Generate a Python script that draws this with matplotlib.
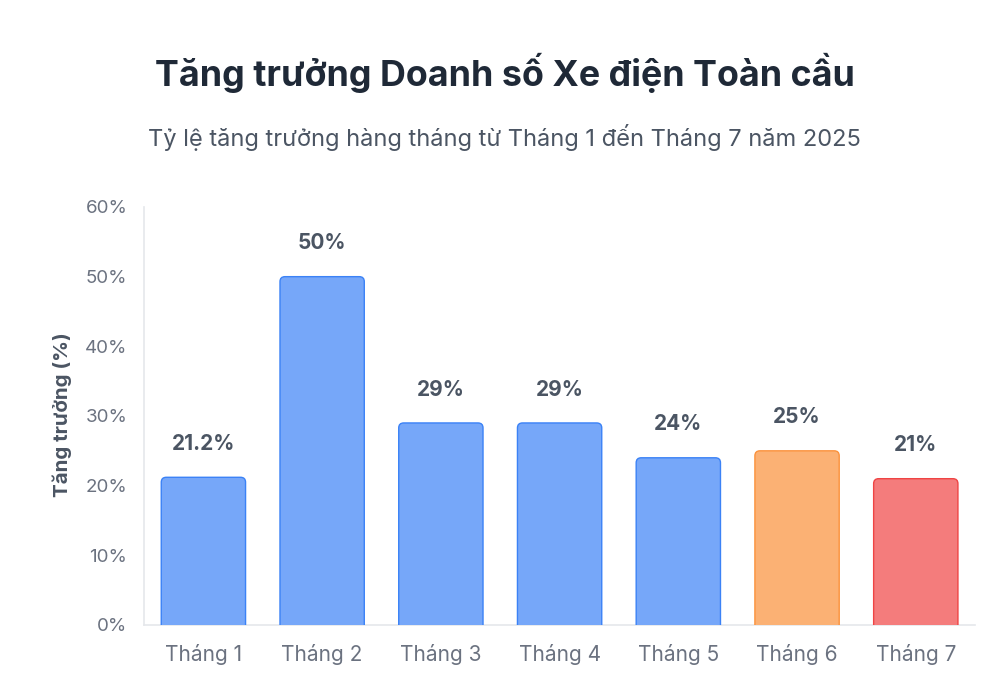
import matplotlib.pyplot as plt
import numpy as np
from matplotlib.patches import FancyBboxPatch

months = ["Tháng 1", "Tháng 2", "Tháng 3", "Tháng 4", "Tháng 5", "Tháng 6", "Tháng 7"]
growth = [21.2, 50, 29, 29, 24, 25, 21]
value_labels = ["21.2%", "50%", "29%", "29%", "24%", "25%", "21%"]
y_ticks = [0, 10, 20, 30, 40, 50, 60]

BLUE_FILL, BLUE_EDGE = "#76A7F9", "#3B82F6"
ORANGE_FILL, ORANGE_EDGE = "#FBB174", "#FB923C"
RED_FILL, RED_EDGE = "#F47C7C", "#EF4444"
fills = [BLUE_FILL] * 5 + [ORANGE_FILL, RED_FILL]
edges = [BLUE_EDGE] * 5 + [ORANGE_EDGE, RED_EDGE]

plt.rcParams["font.family"] = ["Inter", "DejaVu Sans"]

fig = plt.figure(figsize=(9.9, 6.78), dpi=100)
fig.patch.set_facecolor("white")
ax = fig.add_axes([0.1455, 0.0782, 0.8395, 0.6165])

x = np.arange(len(months))
bars = ax.bar(x, growth, width=0.71, color="none", edgecolor="none")

# px per data unit, used to keep the corner radius round
px_x = 0.8395 * 990 / 7.0
px_y = 0.6165 * 678 / 60.0
aspect = px_x / px_y
r = 5.0 / px_x

for b, fc, ec, v, lab in zip(bars, fills, edges, growth, value_labels):
    bx, bw, bh = b.get_x(), b.get_width(), b.get_height()
    patch = FancyBboxPatch(
        (bx + r, -3 + r * aspect),
        bw - 2 * r,
        bh + 3 - 2 * r * aspect,
        boxstyle=f"round,pad={r},rounding_size={r}",
        mutation_aspect=aspect,
        facecolor=fc,
        edgecolor=ec,
        linewidth=1.0,
        zorder=3,
    )
    ax.add_patch(patch)
    ax.text(bx + bw / 2, v + 4.8, lab, ha="center", va="center",
            fontsize=15, fontweight="bold", color="#4B5563")

ax.set_xlim(-0.5, len(months) - 0.5)
ax.set_ylim(0, 60)
ax.set_xticks(x)
ax.set_xticklabels(months, fontsize=15, color="#6B7280")
ax.set_yticks(y_ticks)
ax.set_yticklabels([f"{t}%" for t in y_ticks], fontsize=13.5, color="#6B7280")
ax.tick_params(axis="both", length=0)
ax.tick_params(axis="y", pad=12)
ax.tick_params(axis="x", pad=14)

for s in ["top", "right"]:
    ax.spines[s].set_visible(False)
for s in ["left", "bottom"]:
    ax.spines[s].set_color("#E5E7EB")
    ax.spines[s].set_linewidth(1.2)

fig.text(62 / 990, 1 - 415 / 678, "Tăng trưởng (%)", rotation=90, ha="center", va="center",
         fontsize=14.8, fontweight="bold", color="#4B5563")

fig.text(0.51, 0.893, "Tăng trưởng Doanh số Xe điện Toàn cầu", ha="center", va="center",
         fontsize=25.8, fontweight="bold", color="#1F2937")
fig.text(0.51, 0.797, "Tỷ lệ tăng trưởng hàng tháng từ Tháng 1 đến Tháng 7 năm 2025",
         ha="center", va="center", fontsize=17, color="#4B5563")

fig.savefig("out.png", dpi=100)
